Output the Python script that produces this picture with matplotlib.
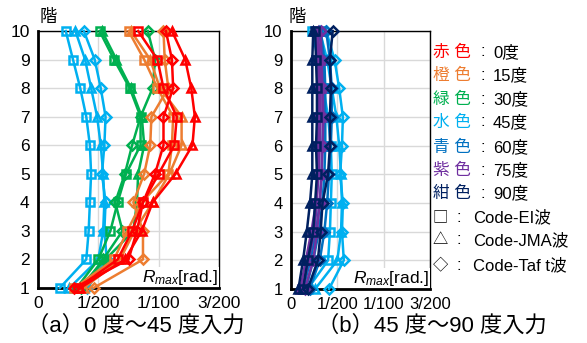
import numpy as np
import matplotlib
matplotlib.use('Agg')
import matplotlib.pyplot as plt

plt.rcParams['font.family'] = ['Liberation Sans', 'Noto Sans CJK JP']
plt.rcParams['mathtext.fontset'] = 'custom'
plt.rcParams['mathtext.it'] = 'Liberation Sans:italic'
plt.rcParams['mathtext.rm'] = 'Liberation Sans'

floors = np.arange(1, 11)

# max story drift R_max per floor (1..10), unit 1/1000 rad
# 0 deg input
d0_el = [3.3, 6.6, 7.8, 8.7, 10.0, 11.3, 11.5, 10.4, 9.9, 8.3]
d0_jma = [3.5, 7.2, 8.6, 9.5, 11.4, 12.8, 13.0, 12.7, 12.2, 11.1]
d0_taft = [3.0, 7.5, 8.2, 8.7, 9.7, 10.4, 10.4, 11.2, 11.1, 10.6]
# 15 deg input
d15_el = [3.0, 6.3, 7.4, 8.6, 10.8, 11.1, 11.2, 9.9, 8.8, 7.5]
d15_jma = [3.8, 6.8, 8.0, 9.5, 10.9, 11.9, 11.9, 10.1, 9.3, 7.7]
d15_taft = [4.6, 8.7, 8.7, 7.9, 8.8, 9.3, 9.4, 10.8, 10.5, 10.4]
# 30 deg input
d30_el = [3.2, 5.0, 6.0, 6.6, 7.3, 8.5, 8.5, 7.6, 6.3, 5.1]
d30_jma = [3.4, 5.6, 7.9, 8.2, 8.3, 8.8, 8.6, 7.7, 6.5, 5.3]
d30_taft = [3.6, 5.4, 7.0, 6.4, 7.2, 7.8, 8.5, 9.5, 9.7, 9.1]
# 45 deg input
d45_el = [1.8, 4.0, 4.2, 4.3, 4.4, 4.3, 4.0, 3.5, 2.9, 2.3]
d45_jma = [2.6, 5.0, 5.4, 5.5, 5.4, 5.2, 4.9, 4.4, 3.9, 3.1]
d45_taft = [4.1, 5.7, 5.5, 5.6, 5.3, 5.5, 5.6, 5.2, 4.7, 3.8]
# 60 deg input
d60_el = [1.6, 2.4, 3.0, 3.4, 3.6, 3.7, 3.7, 3.7, 3.6, 3.2]
d60_jma = [1.3, 2.1, 2.7, 3.1, 3.3, 3.4, 3.5, 3.5, 3.5, 3.0]
d60_taft = [2.0, 3.1, 3.6, 3.9, 4.1, 4.3, 4.4, 4.4, 4.2, 3.8]
# 75 deg input
d75_el = [1.2, 1.9, 2.5, 2.8, 2.9, 2.9, 3.0, 3.0, 2.9, 2.7]
d75_jma = [1.0, 1.6, 2.2, 2.7, 3.0, 3.1, 3.2, 3.2, 3.1, 2.9]
d75_taft = [1.5, 2.4, 2.8, 3.1, 3.3, 3.4, 3.5, 3.4, 3.3, 3.2]
# 90 deg input
d90_el = [1.3, 1.8, 2.4, 2.6, 2.8, 2.7, 2.8, 2.8, 2.7, 2.6]
d90_jma = [0.8, 1.3, 1.7, 2.05, 2.3, 2.3, 2.3, 2.3, 2.3, 2.4]
d90_taft = [1.8, 2.9, 3.2, 3.4, 4.0, 4.2, 4.2, 4.3, 4.2, 4.5]

xticks = [0, 0.005, 0.01, 0.015]
xticklabels = ['0', '1/200', '1/100', '3/200']

c_red = '#FF0000'
c_orange = '#ED7D31'
c_green = '#00B050'
c_lblue = '#00B0F0'
c_blue = '#0070C0'
c_purple = '#7030A0'
c_navy = '#002060'

markers = ['s', '^', 'D']

left_sets = [
    (c_lblue, [d45_el, d45_jma, d45_taft]),
    (c_green, [d30_el, d30_jma, d30_taft]),
    (c_orange, [d15_el, d15_jma, d15_taft]),
    (c_red, [d0_el, d0_jma, d0_taft]),
]
right_sets = [
    (c_lblue, [d45_el, d45_jma, d45_taft]),
    (c_blue, [d60_el, d60_jma, d60_taft]),
    (c_purple, [d75_el, d75_jma, d75_taft]),
    (c_navy, [d90_el, d90_jma, d90_taft]),
]

W, H = 587, 343
fig = plt.figure(figsize=(W / 100, H / 100), dpi=100)


def px(x, y):
    return x / W, 1 - y / H


ax1 = fig.add_axes([38 / W, 1 - 288 / H, 181 / W, 257 / H])
ax2 = fig.add_axes([291 / W, 1 - 289 / H, 139 / W, 258 / H])


def draw_panel(ax, sets, fs):
    for color, series in sets:
        for vals, m in zip(series, markers):
            ms = 6 if m != 'D' else 5
            ax.plot(np.array(vals) * 1e-3, floors, color=color, lw=1.8,
                    marker=m, ms=ms, mfc='none', mec=color, mew=1.8,
                    clip_on=False, zorder=3)
    ax.set_xlim(0, 0.015)
    ax.set_ylim(1, 10)
    ax.set_xticks(xticks)
    ax.set_xticklabels(xticklabels)
    ax.set_yticks(floors)
    ax.tick_params(length=0, labelsize=fs, pad=6)
    ax.grid(True, color='#d9d9d9', lw=1)
    ax.set_axisbelow(True)
    for s in ['left', 'bottom']:
        ax.spines[s].set_linewidth(2)
    for s in ['top', 'right']:
        ax.spines[s].set_linewidth(1)
    ax.text(0.995, 0.005, r'$R_{max}$[rad.]', transform=ax.transAxes,
            ha='right', va='bottom', fontsize=12.5, zorder=4,
            bbox=dict(facecolor='white', edgecolor='none', pad=0.5))


draw_panel(ax1, left_sets, 12.5)
draw_panel(ax2, right_sets, 12)

# floor label
fig.text(*px(48, 17), '階', ha='center', va='center', fontsize=12.5)
fig.text(*px(297, 17), '階', ha='center', va='center', fontsize=12.5)

# captions
fig.text(*px(136, 326), '（a）0 度～45 度入力', ha='center', va='center', fontsize=16)
fig.text(*px(432, 326), '（b）45 度～90 度入力', ha='center', va='center', fontsize=16)

# legend
angle_rows = [
    ('赤 色', c_red, '0度'),
    ('橙 色', c_orange, '15度'),
    ('緑 色', c_green, '30度'),
    ('水 色', c_lblue, '45度'),
    ('青 色', c_blue, '60度'),
    ('紫 色', c_purple, '75度'),
    ('紺 色', c_navy, '90度'),
]
wave_rows = [('□', 'Code-EI波'), ('△', 'Code-JMA波'), ('◇', 'Code-Taf t波')]
row_y = [52, 75, 99, 122, 147, 170, 193, 217, 240, 265]
lfs = 12

for (name, c, deg), y in zip(angle_rows, row_y[:7]):
    fig.text(*px(433, y), name, color=c, ha='left', va='center', fontsize=lfs)
    fig.text(*px(483, y), ':', ha='center', va='center', fontsize=lfs)
    fig.text(*px(493, y), deg, ha='left', va='center', fontsize=lfs)
for (sym, name), y in zip(wave_rows, row_y[7:]):
    fig.text(*px(440, y), sym, ha='center', va='center', fontsize=11,
             family='Noto Sans CJK JP')
    fig.text(*px(459, y), ':', ha='center', va='center', fontsize=lfs)
    fig.text(*px(473, y), name, ha='left', va='center', fontsize=lfs)

fig.savefig('out.png', dpi=100)
